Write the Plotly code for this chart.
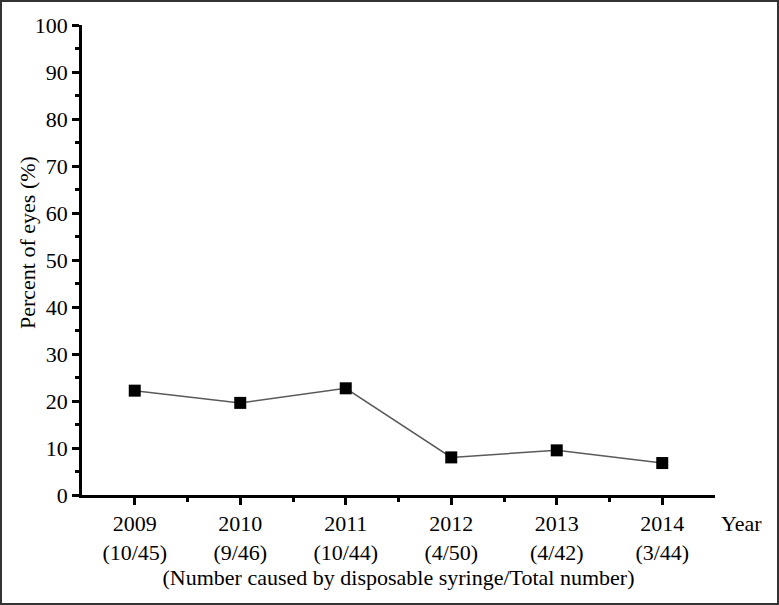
import plotly.graph_objects as go

years = [2009, 2010, 2011, 2012, 2013, 2014]
counts = ["10/45", "9/46", "10/44", "4/50", "4/42", "3/44"]
percent = [22.2, 19.6, 22.7, 8.0, 9.5, 6.8]
tick_text = [f"{y}<br>({c})" for y, c in zip(years, counts)]
minor_x = [2009.5, 2010.5, 2011.5, 2012.5, 2013.5]

W, H = 779, 605
ml, mr, mt, mb = 82, 64, 25, 110
pw, ph = W - ml - mr, H - mt - mb

font = dict(family="Liberation Serif, Times New Roman, serif", color="black")

fig = go.Figure()
fig.add_trace(go.Scatter(
    x=years, y=percent, mode="lines+markers",
    line=dict(color="#5a5a5a", width=1.5),
    marker=dict(symbol="square", size=12, color="black"),
    showlegend=False, cliponaxis=False,
))

fig.update_layout(
    width=W, height=H,
    margin=dict(l=ml, r=mr, t=mt, b=mb),
    paper_bgcolor="white", plot_bgcolor="white",
    font=dict(**font, size=22),
    xaxis=dict(
        range=[2008.5, 2014.5], tickmode="array", tickvals=years, ticktext=tick_text,
        showline=True, linecolor="black", linewidth=2.5, mirror=False,
        ticks="outside", ticklen=7, tickwidth=2.5, tickcolor="black",
        minor=dict(tickmode="array", tickvals=minor_x, ticks="outside", ticklen=4, tickwidth=2.5, tickcolor="black"),
        showgrid=False, zeroline=False,
        tickfont=dict(**font, size=22),
        title=dict(text="(Number caused by disposable syringe/Total number)", font=dict(**font, size=22), standoff=2),
    ),
    yaxis=dict(
        range=[0, 100], tickmode="linear", tick0=0, dtick=10,
        showline=True, linecolor="black", linewidth=2.5,
        ticks="outside", ticklen=7, tickwidth=2.5, tickcolor="black",
        minor=dict(ticks="outside", dtick=5, ticklen=4, tickwidth=2.5, tickcolor="black"),
        showgrid=False, zeroline=False,
        tickfont=dict(**font, size=22),
    ),
    annotations=[
        dict(
            text="Year", x=(741 - ml) / pw, y=-(523 - mt - ph) / ph, xref="paper", yref="paper",
            showarrow=False, font=dict(**font, size=22), xanchor="center", yanchor="middle",
        ),
        dict(
            text="Percent of eyes (%)", x=(27 - ml) / pw, y=1 - (243 - mt) / ph, xref="paper", yref="paper",
            showarrow=False, textangle=-90, font=dict(**font, size=22), xanchor="center", yanchor="middle",
        ),
    ],
    shapes=[dict(
        type="rect", xref="paper", yref="paper",
        x0=(1 - ml) / pw, x1=(W - 1 - ml) / pw,
        y0=-(H - 1 - mt - ph) / ph, y1=(ph + mt - 1) / ph,
        line=dict(color="#333333", width=2), fillcolor="rgba(0,0,0,0)", layer="above",
    )],
)

fig.write_html("out.html", config={"displayModeBar": False},
               post_script="document.body.style.margin='0px';")
